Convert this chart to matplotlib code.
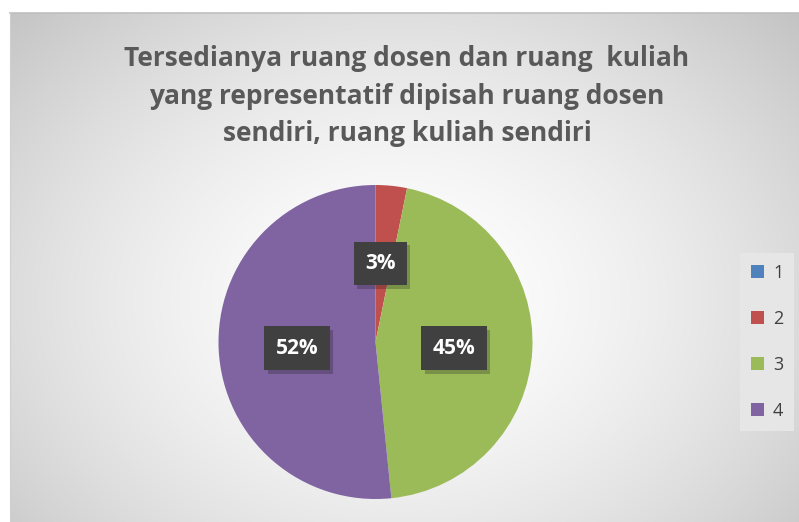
import matplotlib.pyplot as plt
import matplotlib.patheffects as pe
import numpy as np

categories = ['1', '2', '3', '4']
counts = [0, 1, 14, 16]
colors = ['#4F81BD', '#C0504D', '#9BBB59', '#8064A2']
title = ('Tersedianya ruang dosen dan ruang  kuliah\n'
         'yang representatif dipisah ruang dosen\n'
         'sendiri, ruang kuliah sendiri')

W, H = 799, 522
fig = plt.figure(figsize=(W / 100, H / 100), dpi=100)

# background: white margin + radial gradient chart area
bg = fig.add_axes([0, 0, 1, 1])
bg.set_xlim(0, W)
bg.set_ylim(H, 0)
bg.axis('off')
x0, y0 = 10, 13
yy, xx = np.mgrid[y0:H, x0:W]
d = np.sqrt(((xx - 400) / 430.0) ** 2 + ((yy - 300) / 330.0) ** 2)
g = 1.0 - 0.16 * np.clip(d, 0, 1.3) ** 1.6
img = np.dstack([g, g, g])
bg.imshow(img, extent=(x0, W, H, y0), interpolation='bilinear', aspect='auto')
bg.plot([x0, W], [y0, y0], color='#bfbfbf', lw=1.2)
bg.plot([x0, x0], [y0, H], color='#d0d0d0', lw=0.8)

fig.text(407 / W, 1 - 96 / H, title, ha='center', va='center', fontsize=19,
         fontweight='bold', color='#595959', family='Open Sans',
         linespacing=1.5)

# pie
cx, cy, r = 375.5, 342, 157
half = 165
ax = fig.add_axes([(cx - half) / W, (H - cy - half) / H, 2 * half / W, 2 * half / H])
wedges, _ = ax.pie(counts, colors=colors, startangle=90, counterclock=False,
                   radius=1, wedgeprops=dict(linewidth=0))
ax.set_xlim(-half / r, half / r)
ax.set_ylim(-half / r, half / r)
ax.axis('off')

total = sum(counts)
label_pos = {1: (0.03, 0.5), 2: (0.5, -0.04), 3: (-0.5, -0.04)}
for i, (px, py) in label_pos.items():
    pct = '%d%%' % round(100 * counts[i] / total)
    t = ax.text(px, py, pct, ha='center', va='center', fontsize=15,
                fontweight='bold', color='white', family='Open Sans',
                bbox=dict(boxstyle='square,pad=0.55', fc='#404040', ec='none'))
    t.get_bbox_patch().set_path_effects(
        [pe.SimplePatchShadow(offset=(2.5, -2.5), alpha=0.25), pe.Normal()])

leg = fig.legend(wedges, categories, loc='center', bbox_to_anchor=(767 / W, 1 - 342 / H),
                 frameon=True, fancybox=False, facecolor='#e6e6e6', edgecolor='none',
                 framealpha=1, labelspacing=1.55, handlelength=0.75,
                 handleheight=0.75, handletextpad=0.5, borderpad=0.6,
                 prop=dict(family='Open Sans', size=13))
for t in leg.get_texts():
    t.set_color('#404040')

fig.savefig('out.png', dpi=100)
